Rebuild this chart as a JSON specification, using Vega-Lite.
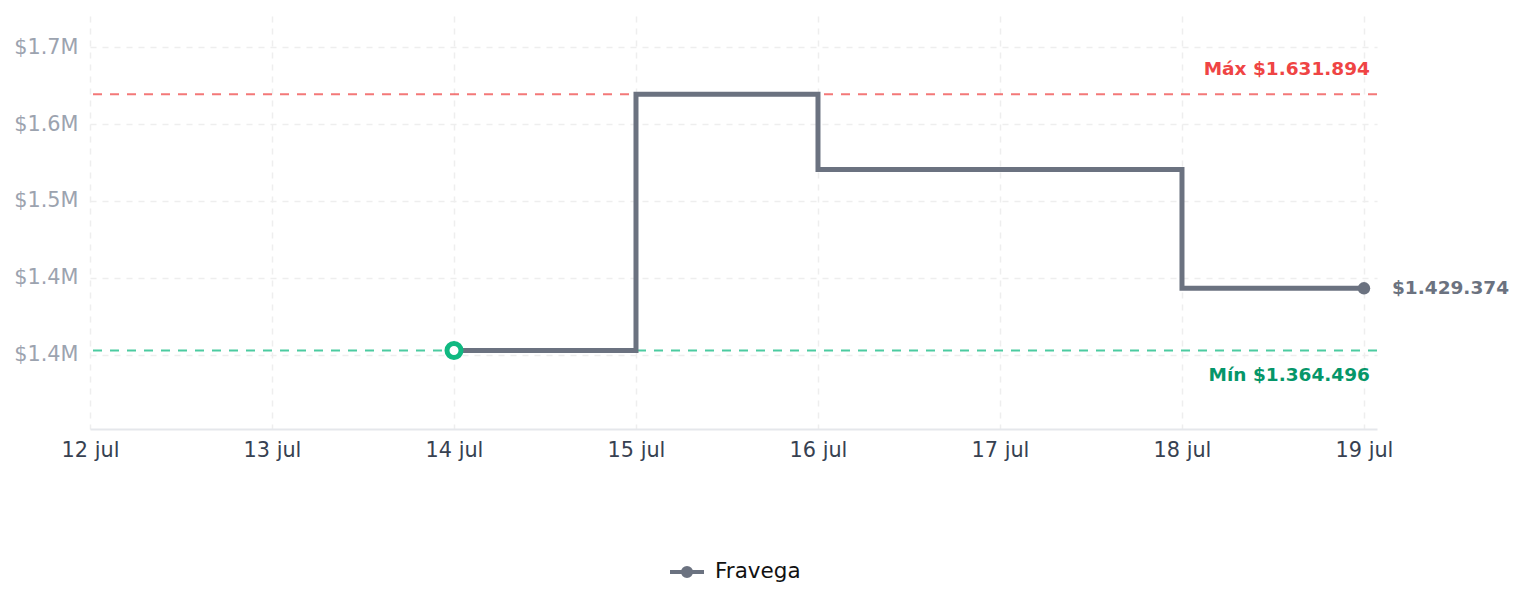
{
  "$schema": "https://vega.github.io/schema/vega-lite/v6.json",
  "width": 1287,
  "height": 413,
  "autosize": "none",
  "padding": {"left": 90, "top": 16, "right": 147, "bottom": 178},
  "background": "white",
  "config": {"font": "DejaVu Sans", "view": {"stroke": null}},
  "datasets": {
    "prices": [
      {"fecha": "2025-07-14", "precio": 1364496, "tienda": "Fravega"},
      {"fecha": "2025-07-15", "precio": 1631894, "tienda": "Fravega"},
      {"fecha": "2025-07-16", "precio": 1553300, "tienda": "Fravega"},
      {"fecha": "2025-07-17", "precio": 1553300, "tienda": "Fravega"},
      {"fecha": "2025-07-18", "precio": 1429374, "tienda": "Fravega"},
      {"fecha": "2025-07-19", "precio": 1429374, "tienda": "Fravega"}
    ],
    "refs": [
      {"label": "Máx $1.631.894", "precio": 1631894, "tipo": "max"},
      {"label": "Mín $1.364.496", "precio": 1364496, "tipo": "min"}
    ],
    "inicio": [{"fecha": "2025-07-14", "precio": 1364496}],
    "fin": [{"fecha": "2025-07-19", "precio": 1429374, "label": "$1.429.374"}]
  },
  "layer": [
    {
      "data": {"name": "refs"},
      "transform": [{"filter": "datum.tipo == 'max'"}],
      "mark": {"type": "rule", "color": "#ef4444", "opacity": 0.72, "strokeWidth": 2, "strokeDash": [9, 8]},
      "encoding": {
        "y": {"field": "precio", "type": "quantitative",
          "scale": {"domain": [1282626, 1713489], "nice": false, "zero": false},
          "axis": {
            "values": [1360114, 1440346, 1520570, 1600804, 1681138],
            "labelExpr": "'$' + format(datum.value / 1000000, '.1f') + 'M'",
            "title": null, "domain": false, "ticks": false,
            "grid": true, "gridColor": "#eeeeee", "gridWidth": 1.5, "gridDash": [6, 6],
            "labelFontSize": 20.8, "labelColor": "#9ca3af", "labelPadding": 12
          }
        }
      }
    },
    {
      "data": {"name": "refs"},
      "transform": [{"filter": "datum.tipo == 'min'"}],
      "mark": {"type": "rule", "color": "#10b981", "opacity": 0.75, "strokeWidth": 2, "strokeDash": [9, 8]},
      "encoding": {
        "y": {"field": "precio", "type": "quantitative"}
      }
    },
    {
      "data": {"name": "prices"},
      "mark": {"type": "line", "interpolate": "step-after", "strokeWidth": 5, "strokeJoin": "miter"},
      "encoding": {
        "x": {"field": "fecha", "type": "temporal",
          "scale": {"type": "utc", "domain": [
            {"year": 2025, "month": 7, "date": 12, "utc": true},
            {"year": 2025, "month": 7, "date": 19, "hours": 1, "minutes": 43, "utc": true}
          ]},
          "axis": {
            "values": [
              {"year": 2025, "month": 7, "date": 12, "utc": true},
              {"year": 2025, "month": 7, "date": 13, "utc": true},
              {"year": 2025, "month": 7, "date": 14, "utc": true},
              {"year": 2025, "month": 7, "date": 15, "utc": true},
              {"year": 2025, "month": 7, "date": 16, "utc": true},
              {"year": 2025, "month": 7, "date": 17, "utc": true},
              {"year": 2025, "month": 7, "date": 18, "utc": true},
              {"year": 2025, "month": 7, "date": 19, "utc": true}
            ],
            "labelExpr": "utcdate(datum.value) + ' ' + ['ene','feb','mar','abr','may','jun','jul','ago','sep','oct','nov','dic'][utcmonth(datum.value)]",
            "title": null, "ticks": false,
            "domainColor": "#e5e7eb", "domainWidth": 2,
            "grid": true, "gridColor": "#eeeeee", "gridWidth": 1.5, "gridDash": [6, 6],
            "labelFontSize": 20.8, "labelColor": "#374151", "labelPadding": 11, "labelFlush": false
          }
        },
        "y": {"field": "precio", "type": "quantitative"},
        "color": {"field": "tienda", "type": "nominal",
          "scale": {"range": ["#6b7280"]},
          "legend": {
            "title": null, "orient": "none", "legendX": 578, "legendY": 537,
            "symbolType": "M-1,0L1,0M-0.24,0A0.24,0.24,0,1,0,0.24,0A0.24,0.24,0,1,0,-0.24,0",
            "symbolSize": 1156, "symbolStrokeWidth": 4, "symbolFillColor": "#6b7280", "symbolStrokeColor": "#6b7280",
            "labelFontSize": 21.5, "labelColor": "#111111", "labelOffset": 9
          }
        }
      }
    },
    {
      "data": {"name": "inicio"},
      "mark": {"type": "point", "shape": "circle", "filled": false, "fill": "white", "stroke": "#10b981", "strokeWidth": 5, "size": 196, "opacity": 1},
      "encoding": {
        "x": {"field": "fecha", "type": "temporal"},
        "y": {"field": "precio", "type": "quantitative"}
      }
    },
    {
      "data": {"name": "fin"},
      "mark": {"type": "point", "shape": "circle", "filled": true, "color": "#6b7280", "size": 155, "opacity": 1},
      "encoding": {
        "x": {"field": "fecha", "type": "temporal"},
        "y": {"field": "precio", "type": "quantitative"}
      }
    },
    {
      "data": {"name": "fin"},
      "mark": {"type": "text", "align": "left", "baseline": "middle", "dx": 28, "fontSize": 18.5, "fontWeight": "bold", "color": "#6b7280"},
      "encoding": {
        "x": {"field": "fecha", "type": "temporal"},
        "y": {"field": "precio", "type": "quantitative"},
        "text": {"field": "label"}
      }
    },
    {
      "data": {"name": "refs"},
      "transform": [{"filter": "datum.tipo == 'max'"}],
      "mark": {"type": "text", "align": "right", "baseline": "middle", "dx": 6, "dy": -25, "fontSize": 18.5, "fontWeight": "bold", "color": "#ef4444"},
      "encoding": {
        "x": {"datum": {"year": 2025, "month": 7, "date": 19, "utc": true}, "type": "temporal"},
        "y": {"field": "precio", "type": "quantitative"},
        "text": {"field": "label"}
      }
    },
    {
      "data": {"name": "refs"},
      "transform": [{"filter": "datum.tipo == 'min'"}],
      "mark": {"type": "text", "align": "right", "baseline": "middle", "dx": 6, "dy": 24, "fontSize": 18.5, "fontWeight": "bold", "color": "#059669"},
      "encoding": {
        "x": {"datum": {"year": 2025, "month": 7, "date": 19, "utc": true}, "type": "temporal"},
        "y": {"field": "precio", "type": "quantitative"},
        "text": {"field": "label"}
      }
    }
  ]
}
